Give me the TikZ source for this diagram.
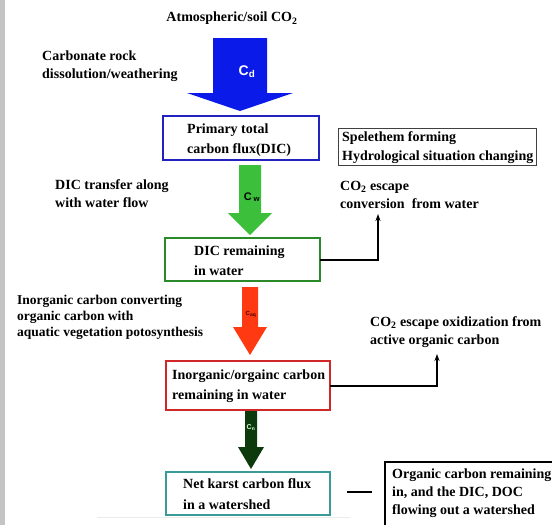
\documentclass[tikz,border=0pt]{standalone}
\usepackage{fontspec}
\setmainfont{Liberation Serif}
\setsansfont{Liberation Sans}
\usetikzlibrary{arrows.meta}
\definecolor{bluearr}{HTML}{0A1AE8}
\definecolor{bluebox}{HTML}{2222C0}
\definecolor{greenarr}{HTML}{3CC03C}
\definecolor{greenbox}{HTML}{2A8A2A}
\definecolor{redarr}{HTML}{FF3A12}
\definecolor{redbox}{HTML}{D02828}
\definecolor{darkarr}{HTML}{0C3A0C}
\definecolor{tealbox}{HTML}{3A9A9A}
\definecolor{stripgray}{HTML}{C4C4C4}
\newcommand{\fatarr}[7]{% cx, top, neck, tip, shaft half, head half, colour
  \fill[#7] (#1-#5,#2) -- (#1+#5,#2) -- (#1+#5,#3) -- (#1+#6,#3) -- (#1,#4) -- (#1-#6,#3) -- (#1-#5,#3) -- cycle;}
\tikzset{
  lbl/.style={font=\fontsize{14}{18}\selectfont\bfseries, align=left, anchor=north west, inner sep=0pt},
  boxtxt/.style={font=\fontsize{14}{19.5}\selectfont\bfseries, align=left, anchor=north west, inner sep=0pt},
  flowbox/.style={draw, line width=1.6pt, inner sep=0pt},
  conn/.style={line width=1.1pt, -{Stealth[length=7pt,width=5pt]}},
}
\begin{document}
\begin{tikzpicture}[x=1pt,y=-1pt]
\useasboundingbox (0,0) rectangle (552,525);
\fill[stripgray] (0,0) rectangle (5,525);
\begin{scope}
\clip (0,0) rectangle (552,525);
% titles and side labels
\node[lbl, anchor=north] (atm) at (232,12) {Atmospheric/soil CO\textsubscript{2}};
\node[lbl] (carb) at (42,51) {Carbonate rock\\dissolution/weathering};
\node[lbl] (dictr) at (55,179) {DIC transfer along\\with water flow};
\node[lbl, font=\fontsize{13.5}{16.2}\selectfont\bfseries] (inorg) at (17,295) {Inorganic carbon converting\\organic carbon with\\aquatic vegetation potosynthesis};
\node[lbl] (esc1) at (340,181) {CO\textsubscript{2} escape\\conversion\ \ from water};
\node[lbl] (esc2) at (370,316) {CO\textsubscript{2} escape oxidization from\\active organic carbon};

% fat arrows
\fatarr{240}{38}{93}{111}{27}{53}{bluearr}
\node[font=\sffamily\bfseries\fontsize{14}{14}\selectfont, text=white] (cd) at (247,72) {C\textsubscript{d}};
\fatarr{250}{165}{213}{235}{11}{22}{greenarr}
\node[font=\sffamily\bfseries\fontsize{11}{11}\selectfont, text=black] (cw) at (252,197) {C\,\textsubscript{w}};
\fatarr{250}{287}{327}{355}{8}{17}{redarr}
\node[font=\sffamily\bfseries\fontsize{6}{6}\selectfont, text=black!70!red] (caq) at (251,314) {C\textsubscript{aq}};
\fatarr{251}{410}{447}{469}{6}{13}{darkarr}
\node[font=\sffamily\bfseries\fontsize{7}{7}\selectfont, text=white!85!green] (cn) at (251,428) {C\textsubscript{n}};

% boxes
\draw[flowbox, bluebox, line width=2pt] (163,116) rectangle (319,160);
\node[boxtxt] (prim) at (187,124) {Primary total\\carbon flux(DIC)};
\draw[line width=0.8pt, black!75] (338,128) rectangle (536,165);
\node[boxtxt] (spel) at (342,131) {Spelethem forming\\Hydrological situation changing};
\draw[flowbox, greenbox] (165,238) rectangle (320,281);
\node[boxtxt] (dicrem) at (194,246) {DIC remaining\\in water};
\draw[flowbox, redbox] (166,361) rectangle (330,410);
\node[boxtxt] (inorem) at (172,370) {Inorganic/orgainc carbon\\remaining in water};
\draw[flowbox, tealbox] (166,472) rectangle (330,515);
\node[boxtxt, font=\fontsize{14}{21}\selectfont\bfseries] (net) at (183,478) {Net karst carbon flux\\in a watershed};
\draw[line width=1.1pt] (385,530) -- (385,462) -- (560,462);
\node[boxtxt, font=\fontsize{14}{18}\selectfont\bfseries] (orgrem) at (392,469) {Organic carbon remaining\\in, and the DIC, DOC\\flowing out a watershed};

% connectors
\coordinate (g1) at (320,260);
\coordinate (g2) at (378,260);
\coordinate (g3) at (378,214);
\draw[conn] (g1) -- (g2) -- (g3);
\coordinate (r1) at (330,386);
\coordinate (r2) at (437,386);
\coordinate (r3) at (437,354);
\draw[conn] (r1) -- (r2) -- (r3);
\coordinate (n1) at (347,492);
\coordinate (n2) at (372,492);
\draw[line width=1.3pt] (n1) -- (n2);
\draw[black!8, line width=0.6pt] (97,517) -- (350,517);
\end{scope}
\end{tikzpicture}
\end{document}
